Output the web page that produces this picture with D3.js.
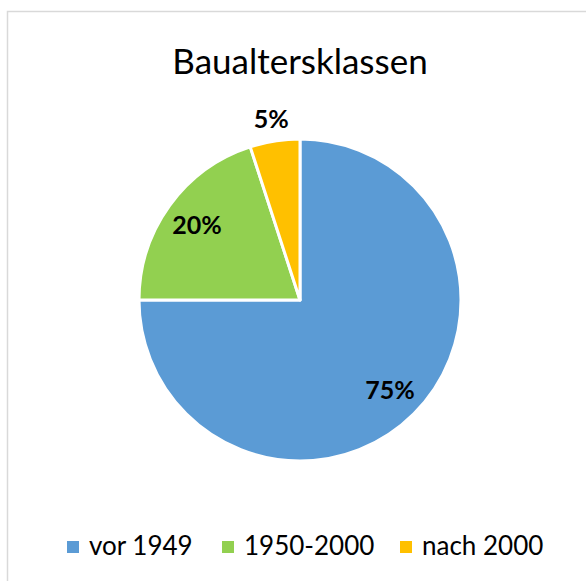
<!DOCTYPE html>
<html>
<head>
<meta charset="utf-8">
<script src="https://cdn.jsdelivr.net/npm/d3@7"></script>
<style>
  body { margin: 0; background: #fff; }
  text { font-family: Lato, "Open Sans", sans-serif; }
</style>
</head>
<body>
<div id="chart"></div>
<script>
// chart data
var categories = ["vor 1949", "1950-2000", "nach 2000"];
var values = [75, 20, 5];
var colors = ["#5B9BD5", "#92D050", "#FFC000"];
var title = "Baualtersklassen";

var width = 586, height = 581;
var cx = 300, cy = 300, radius = 161;

var svg = d3.select("#chart")
    .append("svg")
    .attr("width", width)
    .attr("height", height);

// chart area border
svg.append("rect")
    .attr("x", 7.5)
    .attr("y", 11.5)
    .attr("width", 640)
    .attr("height", 640)
    .attr("fill", "#fff")
    .attr("stroke", "#d9d9d9")
    .attr("stroke-width", 1.5);

// title
svg.append("text")
    .attr("x", cx)
    .attr("y", 74)
    .attr("text-anchor", "middle")
    .style("font-size", "35px")
    .text(title);

var total = d3.sum(values);
var pie = d3.pie().sort(null).value(d => d);
var arcs = pie(values);

var arc = d3.arc().innerRadius(0).outerRadius(radius);
var labelArc = d3.arc().innerRadius(radius * 0.79).outerRadius(radius * 0.79);
var outerArc = d3.arc().innerRadius(radius + 22).outerRadius(radius + 22);

var g = svg.append("g")
    .attr("transform", "translate(" + cx + "," + cy + ")");

// slices
g.selectAll("path")
    .data(arcs)
    .enter()
    .append("path")
    .attr("d", arc)
    .attr("fill", (d, i) => colors[i])
    .attr("stroke", "#fff")
    .attr("stroke-width", 3)
    .attr("stroke-linejoin", "round");

// percent labels (small slices sit outside)
g.selectAll("text.label")
    .data(arcs)
    .enter()
    .append("text")
    .attr("class", "label")
    .attr("transform", d => {
        var c = (d.value / total < 0.1) ? outerArc.centroid(d) : labelArc.centroid(d);
        return "translate(" + c[0] + "," + c[1] + ")";
    })
    .attr("dy", "0.36em")
    .attr("text-anchor", "middle")
    .style("font-size", "25px")
    .style("font-weight", "bold")
    .text(d => Math.round(d.value / total * 100) + "%");

// legend
var legendX = [67, 222, 400];
var legend = svg.append("g");
var items = legend.selectAll("g")
    .data(categories)
    .enter()
    .append("g")
    .attr("transform", (d, i) => "translate(" + legendX[i] + ",541)");

items.append("rect")
    .attr("width", 12)
    .attr("height", 12)
    .attr("fill", (d, i) => colors[i]);

items.append("text")
    .attr("x", 22)
    .attr("y", 14)
    .style("font-size", "26px")
    .text(d => d);
</script>
</body>
</html>
